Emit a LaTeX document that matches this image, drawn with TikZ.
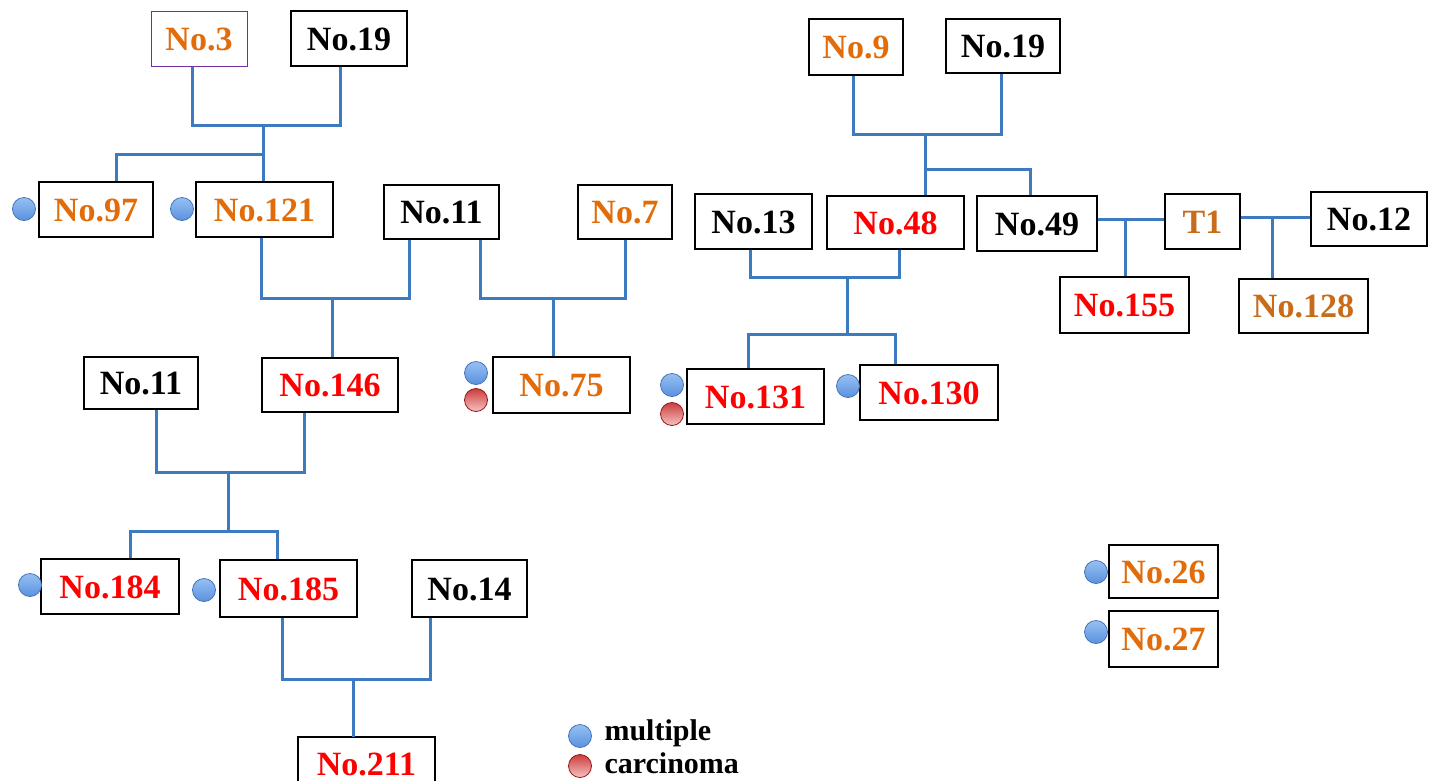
\documentclass[tikz,border=0pt]{standalone}
\usepackage{fontspec}
\setmainfont{Liberation Serif}
\definecolor{linkblue}{RGB}{62,122,192}
\definecolor{ora}{RGB}{226,107,10}
\definecolor{brn}{RGB}{200,108,26}
\definecolor{rd}{RGB}{255,0,0}
\definecolor{purp}{RGB}{112,48,160}
\definecolor{bltop}{RGB}{150,192,242}
\definecolor{blbot}{RGB}{90,145,222}
\definecolor{bledge}{RGB}{70,115,185}
\definecolor{rdtop}{RGB}{205,60,60}
\definecolor{rdbot}{RGB}{245,195,195}
\definecolor{rdedge}{RGB}{150,20,20}
\begin{document}
\begin{tikzpicture}[x=1pt,y=-1pt,
  box/.style={draw=black, line width=1.4pt, fill=white, inner sep=0pt,
    font=\fontsize{34}{40}\selectfont\bfseries, text height=23pt, text depth=0pt},
  boxframe/.style={draw=black, line width=1.4pt},
  link/.style={draw=linkblue, line width=3pt},
  multc/.style={circle, inner sep=0pt, minimum size=23pt, draw=bledge, line width=0.8pt,
    top color=bltop, bottom color=blbot},
  carc/.style={circle, inner sep=0pt, minimum size=23pt, draw=rdedge, line width=0.8pt,
    top color=rdtop, bottom color=rdbot},
  legtext/.style={anchor=base west, font=\fontsize{30}{36}\selectfont\bfseries}]
\fill[white] (0,0) rectangle (1429,780);
\useasboundingbox (0,0) rectangle (1429,780);

% ---------- boxes ----------
\node[box, draw=purp, line width=1pt, text=ora, minimum width=96pt, minimum height=55pt] (n3) at (199,38.5) {No.3};
\node[box, minimum width=116pt, minimum height=55pt] (n19a) at (349,38.5) {No.19};
\node[box, text=ora, minimum width=114pt, minimum height=55pt] (n97) at (96,209.5) {No.97};
\node[box, text=ora, minimum width=137pt, minimum height=55pt] (n121) at (264.5,209.5) {No.121};
\node[box, minimum width=115pt, minimum height=54pt] (n11a) at (441.5,212) {No.11};
\node[box, text=ora, minimum width=94pt, minimum height=54pt] (n7) at (625,212) {No.7};
\node[box, text=rd, minimum width=136pt, minimum height=54pt] (n146) at (330,385) {No.146};
\node[box, text=ora, minimum width=137pt, minimum height=56pt] (n75) at (561.5,385) {No.75};
\node[box, minimum width=114pt, minimum height=52pt] (n11b) at (141,383) {No.11};
\node[box, text=rd, minimum width=138pt, minimum height=55pt] (n184) at (110,586.5) {No.184};
\node[box, text=rd, minimum width=137pt, minimum height=57pt] (n185) at (288.5,588.5) {No.185};
\node[box, minimum width=115pt, minimum height=57pt] (n14) at (469.5,588.5) {No.14};
% No.211: box runs past the lower edge, so its frame is drawn open
\node[box, draw=none, fill=none, text=rd] (n211) at (366.5,764) {No.211};
\coordinate (n211top) at ([yshift=27pt]n211.center);
\draw[boxframe] ([shift={(-68.5pt,-30pt)}]n211.center) -- ([shift={(-68.5pt,27pt)}]n211.center)
  -- ([shift={(68.5pt,27pt)}]n211.center) -- ([shift={(68.5pt,-30pt)}]n211.center);

\node[box, text=ora, minimum width=94pt, minimum height=56pt] (n9) at (856,47) {No.9};
\node[box, minimum width=114pt, minimum height=54pt] (n19b) at (1003,46) {No.19};
\node[box, minimum width=117pt, minimum height=55pt] (n13) at (753.5,221.5) {No.13};
\node[box, text=rd, minimum width=137pt, minimum height=53pt] (n48) at (895.5,222.5) {No.48};
\node[box, minimum width=120pt, minimum height=55pt] (n49) at (1037,223.5) {No.49};
\node[box, text=brn, minimum width=75pt, minimum height=55pt] (nT1) at (1202.5,221.5) {T1};
\node[box, minimum width=116pt, minimum height=54pt] (n12) at (1369,219) {No.12};
\node[box, text=rd, minimum width=129pt, minimum height=56pt] (n155) at (1124.5,305) {No.155};
\node[box, text=brn, minimum width=129pt, minimum height=54pt] (n128) at (1303.5,306) {No.128};
\node[box, text=rd, minimum width=137pt, minimum height=55pt] (n131) at (755.5,396.5) {No.131};
\node[box, text=rd, minimum width=138pt, minimum height=55pt] (n130) at (929,392.5) {No.130};
\node[box, text=ora, minimum width=109pt, minimum height=53pt] (n26) at (1163.5,571.5) {No.26};
\node[box, text=ora, minimum width=109pt, minimum height=56pt] (n27) at (1163.5,639) {No.27};

% ---------- connectors ----------
% No.3 x No.19 -> No.97, No.121
\coordinate (j1) at (263,125);
\coordinate (j1b) at (263,154);
\draw[link] (n3.south -| 192,0) -- (192,125) -- (340,125) -- (n19a.south -| 340,0);
\draw[link] (j1) -- (n121.north -| j1);
\draw[link] (j1b) -| (n97.north -| 116,0);
% No.121 x No.11 -> No.146
\coordinate (j2) at (332,298);
\draw[link] (n121.south -| 261,0) -- (261,298) -- (409,298) -- (n11a.south -| 409,0);
\draw[link] (j2) -- (n146.north -| j2);
% No.11 x No.7 -> No.75
\coordinate (j3) at (553,298);
\draw[link] (n11a.south -| 480,0) -- (480,298) -- (625,298) -- (n7.south -| 625,0);
\draw[link] (j3) -- (n75.north -| j3);
% No.11 x No.146 -> No.184, No.185
\coordinate (j4) at (228,472);
\coordinate (j4b) at (228,531);
\draw[link] (n11b.south -| 156,0) -- (156,472) -- (304,472) -- (n146.south -| 304,0);
\draw[link] (j4) -- (j4b);
\draw[link] (n184.north -| 130,0) -- (130,531) -- (277,531) -- (n185.north -| 277,0);
% No.185 x No.14 -> No.211
\coordinate (j5) at (353,679);
\draw[link] (n185.south -| 282,0) -- (282,679) -- (430,679) -- (n14.south -| 430,0);
\draw[link] (j5) -- (n211top -| j5);
% No.9 x No.19 -> No.48, No.49
\coordinate (j6) at (925,134);
\coordinate (j6b) at (925,169);
\draw[link] (n9.south -| 853,0) -- (853,134) -- (1001,134) -- (n19b.south -| 1001,0);
\draw[link] (j6) -- (n48.north -| j6);
\draw[link] (j6b) -| (n49.north -| 1030,0);
% No.13 x No.48 -> No.131, No.130
\coordinate (j7) at (847,277);
\coordinate (j7b) at (847,334);
\draw[link] (n13.south -| 750,0) -- (750,277) -- (899,277) -- (n48.south -| 899,0);
\draw[link] (j7) -- (j7b);
\draw[link] (n131.north -| 748,0) -- (748,334) -- (895,334) -- (n130.north -| 895,0);
% No.49 x T1 -> No.155
\coordinate (j8) at (1125,219);
\draw[link] (n49.east |- 0,219) -- (nT1.west |- 0,219);
\draw[link] (j8) -- (n155.north -| j8);
% T1 x No.12 -> No.128
\coordinate (j9) at (1272,217);
\draw[link] (nT1.east |- 0,217) -- (n12.west |- 0,217);
\draw[link] (j9) -- (n128.north -| j9);

% ---------- markers ----------
\node[multc] (c97) at (24,209) {};
\node[multc] (c121) at (182,209) {};
\node[multc] (c75b) at (476,373) {};
\node[carc] (c75r) at (476,400) {};
\node[multc] (c131b) at (672,385) {};
\node[carc] (c131r) at (672,414) {};
\node[multc] (c130) at (848,386) {};
\node[multc] (c184) at (30,585) {};
\node[multc] (c185) at (204,590) {};
\node[multc] (c26) at (1096,572) {};
\node[multc] (c27) at (1096,632) {};

% ---------- legend ----------
\node[multc] (lm) at (580,736) {};
\node[carc] (lc) at (580,766) {};
\node[legtext] (lmt) at (601,740) {multiple};
\node[legtext] (lct) at (601,773) {carcinoma};
\end{tikzpicture}
\end{document}
